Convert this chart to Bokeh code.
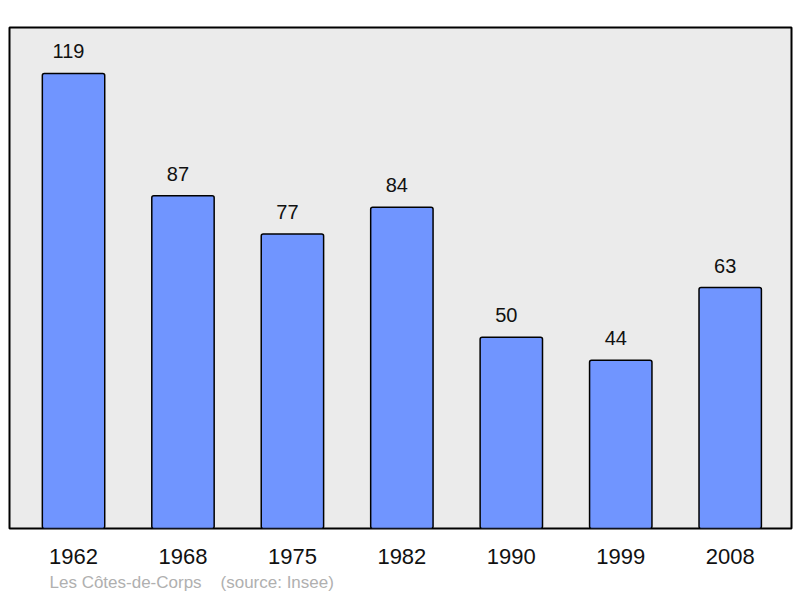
from bokeh.plotting import figure
from bokeh.models import FixedTicker, Title, ColumnDataSource, Range1d
from bokeh.core.properties import value
from bokeh.embed import file_html
from bokeh.resources import INLINE

years = ["1962", "1968", "1975", "1982", "1990", "1999", "2008"]
population = [119, 87, 77, 84, 50, 44, 63]
footer = "Les Côtes-de-Corps\u00a0\u00a0\u00a0\u00a0(source: Insee)"

xs = list(range(len(years)))
src = ColumnDataSource(dict(x=xs, y=population, lab=[str(v) for v in population]))

p = figure(frame_width=782, frame_height=501, output_backend="svg", toolbar_location=None,
           x_range=Range1d(-0.585, 6.56), y_range=Range1d(0, 131),
           min_border_left=9, min_border_right=9, min_border_top=27, min_border_bottom=0)
p.background_fill_color = "#ebebeb"
p.border_fill_color = "white"
p.outline_line_color = "black"
p.outline_line_width = 2
p.grid.visible = False
p.yaxis.visible = False

p.vbar(x="x", top="y", width=0.57, bottom=0, source=src,
       fill_color="#7095ff", line_color="black", line_width=1.5, border_radius=2)
p.text(x="x", y="y", text="lab", source=src, text_align="center",
       text_baseline="middle", x_offset=-5, y_offset=-22, text_font_size="20px",
       text_font=value("Liberation Sans"), text_color="#111111")

ax = p.xaxis[0]
ax.ticker = FixedTicker(ticks=xs)
ax.major_label_overrides = {i: y for i, y in enumerate(years)}
ax.axis_line_color = None
ax.major_tick_line_color = None
ax.minor_tick_line_color = None
ax.major_tick_out = 0
ax.major_label_standoff = 20
ax.major_label_text_font = "Liberation Sans"
ax.major_label_text_font_size = "22px"
ax.major_label_text_color = "#111111"

t = Title(text=footer, align="left", text_font="Liberation Sans", text_font_size="17px",
          text_color="#b0b0b0", text_font_style="normal", offset=40, standoff=8)
p.add_layout(t, "below")

open("out.html", "w").write(file_html(p, INLINE))
